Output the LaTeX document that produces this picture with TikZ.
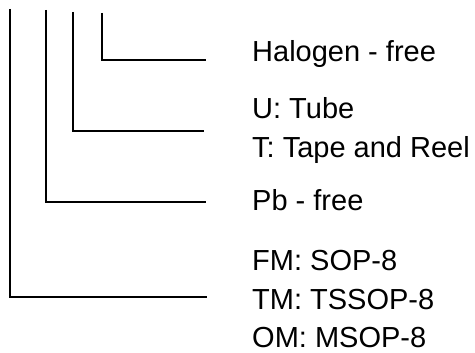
\documentclass[tikz,border=0pt]{standalone}
\usepackage{fontspec}
\setmainfont{Liberation Sans}
\begin{document}
\begin{tikzpicture}[x=1pt,y=-1pt,
  wire/.style={line width=1.8pt,black},
  lbl/.style={anchor=base west,inner sep=0pt,font=\fontsize{29}{35}\selectfont}]
\useasboundingbox (0,0) rectangle (475,353);
% connector start and end points
\coordinate (t1) at (10,9);
\coordinate (e1) at (207,297);
\coordinate (t2) at (46,10);
\coordinate (e2) at (206,202);
\coordinate (t3) at (73,12);
\coordinate (e3) at (204,131);
\coordinate (t4) at (102,13);
\coordinate (e4) at (206,60);
\draw[wire] (t1) |- (e1);
\draw[wire] (t2) |- (e2);
\draw[wire] (t3) |- (e3);
\draw[wire] (t4) |- (e4);
% labels
\node[lbl] (halo) at (252,62) {Halogen - free};
\node[lbl] (tube) at (252,119) {U: Tube};
\node[lbl] (tape) at (252,158) {T: Tape and Reel};
\node[lbl] (pb) at (252,211) {Pb - free};
\node[lbl] (fm) at (252,270) {FM: SOP-8};
\node[lbl] (tm) at (252,309) {TM: TSSOP-8};
\node[lbl] (om) at (252,348) {OM: MSOP-8};
\end{tikzpicture}
\end{document}
